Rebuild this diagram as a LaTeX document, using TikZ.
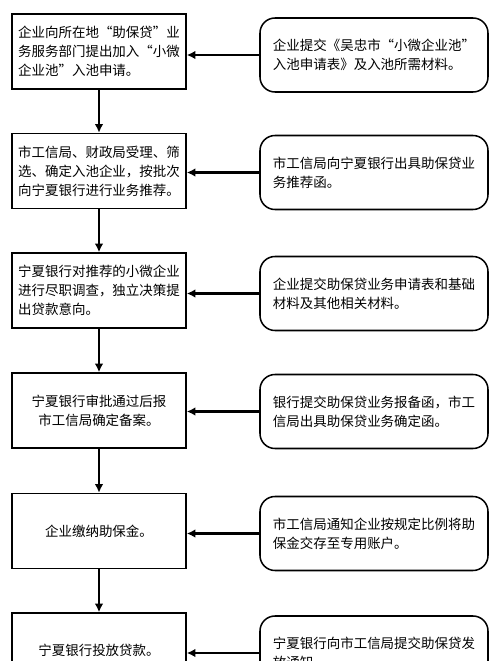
\documentclass[tikz,border=0pt]{standalone}
\usepackage{fontspec}
\setmainfont{Noto Sans CJK SC}
\usetikzlibrary{arrows.meta}

\begin{document}
\begin{tikzpicture}[
    scale=1,
    stepbox/.style={draw, line width=1.3pt, minimum width=5.22cm, minimum height=2.25cm, inner sep=0pt, align=left, font=\fontsize{11.5}{16.2}\selectfont},
    stepmid/.style={stepbox, align=center},
    notebox/.style={draw, line width=1.3pt, rounded corners=.45cm, minimum width=6.84cm, minimum height=2.22cm, inner sep=0pt, align=left, font=\fontsize{11.5}{16.2}\selectfont},
    conn/.style={-{Latex[length=.26cm, width=.26cm]}, line width=2.4pt}
    ]
    \clip (0,0) rectangle (15,-19.83);

    \node [stepbox] (sA) at (2.97,-1.545) {企业向所在地“助保贷”业\\务服务部门提出加入“小微\\企业池”入池申请。};
    \node [stepbox] (sB) at (2.97,-5.13) {市工信局、财政局受理、筛\\选、确定入池企业，按批次\\向宁夏银行进行业务推荐。};
    \node [stepbox] (sC) at (2.97,-8.715) {宁夏银行对推荐的小微企业\\进行尽职调查，独立决策提\\出贷款意向。};
    \node [stepmid] (sD) at (2.97,-12.315) {宁夏银行审批通过后报\\市工信局确定备案。};
    \node [stepmid] (sE) at (2.97,-15.93) {企业缴纳助保金。};
    \node [stepmid] (sF) at (2.97,-19.515) {宁夏银行投放贷款。};

    \node [notebox] (nA) at (11.22,-1.65) {企业提交《吴忠市“小微企业池”\\入池申请表》及入池所需材料。};
    \node [notebox] (nB) at (11.22,-5.175) {市工信局向宁夏银行出具助保贷业\\务推荐函。};
    \node [notebox] (nC) at (11.22,-8.805) {企业提交助保贷业务申请表和基础\\材料及其他相关材料。};
    \node [notebox] (nD) at (11.22,-12.345) {银行提交助保贷业务报备函，市工\\信局出具助保贷业务确定函。};
    \node [notebox] (nE) at (11.22,-16.005) {市工信局通知企业按规定比例将助\\保金交存至专用账户。};
    \node [notebox] (nF) at (11.22,-19.59) {宁夏银行向市工信局提交助保贷发\\放通知。};

    \draw [conn] (sA) -- (sB);
    \draw [conn] (sB) -- (sC);
    \draw [conn] (sC) -- (sD);
    \draw [conn] (sD) -- (sE);
    \draw [conn] (sE) -- (sF);

    \draw [conn] (nA.west) -- (nA.west -| sA.east);
    \draw [conn] (nB.west) -- (nB.west -| sB.east);
    \draw [conn] (nC.west) -- (nC.west -| sC.east);
    \draw [conn] (nD.west) -- (nD.west -| sD.east);
    \draw [conn] (nE.west) -- (nE.west -| sE.east);
    \draw [conn] (nF.west) -- (nF.west -| sF.east);
\end{tikzpicture}
\end{document}
